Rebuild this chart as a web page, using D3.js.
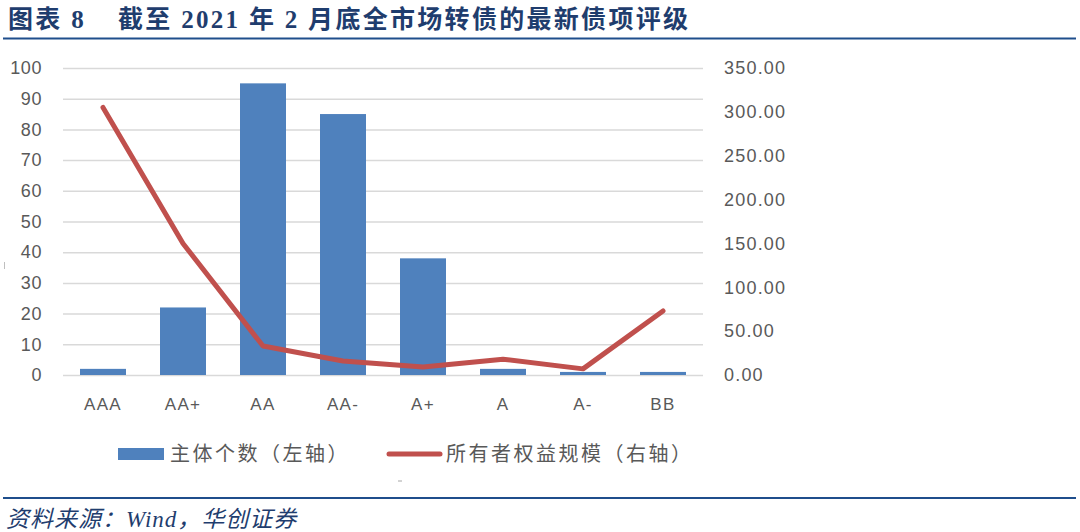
<!DOCTYPE html>
<html>
<head>
  <meta charset="utf-8">
  <script src="https://cdn.jsdelivr.net/npm/d3@7"></script>
  <style>
    body { margin: 0; background: #fff; }
  </style>
</head>
<body>
  <div id="chart"></div>
  <script>
    // ratings and values
    var categories = ["AAA", "AA+", "AA", "AA-", "A+", "A", "A-", "BB"];
    var issuerCount = [2, 22, 95, 85, 38, 2, 1, 1];
    var equityScale = [305, 150, 33, 16, 9, 18, 7, 73];
    var leftTicks = [0, 10, 20, 30, 40, 50, 60, 70, 80, 90, 100];
    var rightTicks = [0, 50, 100, 150, 200, 250, 300, 350];
    var seriesNames = ["主体个数（左轴）", "所有者权益规模（右轴）"];

    const W = 1080, H = 532;
    const margin = { top: 68, right: 377, bottom: 157, left: 63 },
      width = W - margin.left - margin.right,
      height = H - margin.top - margin.bottom;

    var svg = d3.select("#chart")
      .append("svg")
      .attr("width", W)
      .attr("height", H);

    // title and rules
    var title = svg.append("g")
      .attr("font-family", "'Liberation Serif', 'Noto Sans CJK SC', serif")
      .attr("font-weight", "bold")
      .attr("font-size", 25)
      .attr("letter-spacing", 2.3)
      .attr("fill", "#1f3d6e");
    title.append("text")
      .attr("x", 8).attr("y", 28)
      .text("图表 8");
    title.append("text")
      .attr("x", 118).attr("y", 28)
      .text("截至 2021 年 2 月底全市场转债的最新债项评级");

    svg.append("line")
      .attr("x1", 3).attr("x2", 1076)
      .attr("y1", 38.5).attr("y2", 38.5)
      .attr("stroke", "#1f4e8c").attr("stroke-width", 2);

    svg.append("line")
      .attr("x1", 3).attr("x2", 1076)
      .attr("y1", 498).attr("y2", 498)
      .attr("stroke", "#1f4e8c").attr("stroke-width", 2);

    svg.append("text")
      .attr("x", 6)
      .attr("y", 527)
      .attr("font-family", "'Liberation Serif', 'Noto Sans CJK SC', serif")
      .attr("font-style", "italic")
      .attr("font-size", 23)
      .attr("letter-spacing", 1)
      .attr("fill", "#1f3d6e")
      .text("资料来源：Wind，华创证券");

    // stray marks in the source picture
    svg.append("line")
      .attr("x1", 4.5).attr("x2", 4.5).attr("y1", 262).attr("y2", 269)
      .attr("stroke", "#bfbfbf").attr("stroke-width", 1);
    svg.append("line")
      .attr("x1", 398).attr("x2", 402).attr("y1", 481).attr("y2", 481)
      .attr("stroke", "#a6a6a6").attr("stroke-width", 1);

    var g = svg.append("g")
      .attr("transform", `translate(${margin.left},${margin.top})`);

    var x = d3.scaleBand()
      .domain(categories)
      .range([0, width])
      .paddingInner(0.425)
      .paddingOuter(0.2125);

    var yL = d3.scaleLinear().domain([0, 100]).range([height, 0]);
    var yR = d3.scaleLinear().domain([0, 350]).range([height, 0]);

    // gridlines
    g.append("g")
      .call(d3.axisLeft(yL).tickValues(leftTicks).tickSize(-width).tickFormat(""))
      .call(a => a.select(".domain").remove())
      .selectAll("line")
      .attr("stroke", "#d9d9d9")
      .attr("stroke-width", 1.5);

    // left axis labels
    g.append("g")
      .call(d3.axisLeft(yL).tickValues(leftTicks).tickSize(0).tickPadding(21))
      .call(a => a.select(".domain").remove())
      .selectAll("text")
      .attr("font-family", "'Liberation Sans', Arial, sans-serif")
      .attr("font-size", 18)
      .attr("letter-spacing", 0.6)
      .attr("fill", "#595959");

    // right axis labels
    g.append("g")
      .attr("transform", `translate(${width},0)`)
      .call(d3.axisRight(yR).tickValues(rightTicks).tickSize(0).tickPadding(21).tickFormat(d3.format(".2f")))
      .call(a => a.select(".domain").remove())
      .selectAll("text")
      .attr("font-family", "'Liberation Sans', Arial, sans-serif")
      .attr("font-size", 18)
      .attr("letter-spacing", 1.2)
      .attr("fill", "#595959");

    // x axis labels
    g.append("g")
      .attr("transform", `translate(0,${height})`)
      .call(d3.axisBottom(x).tickSize(0).tickPadding(23))
      .call(a => a.select(".domain").remove())
      .selectAll("text")
      .attr("font-family", "'Liberation Sans', Arial, sans-serif")
      .attr("font-size", 17)
      .attr("letter-spacing", 1.3)
      .attr("fill", "#595959");

    // bars
    g.selectAll(".bar")
      .data(categories)
      .enter()
      .append("rect")
      .attr("class", "bar")
      .attr("x", d => x(d))
      .attr("width", x.bandwidth())
      .attr("y", (d, i) => yL(issuerCount[i]))
      .attr("height", (d, i) => height - yL(issuerCount[i]))
      .attr("fill", "#4f81bd");

    // line on right axis
    var line = d3.line()
      .x((d, i) => x(categories[i]) + x.bandwidth() / 2)
      .y(d => yR(d));

    g.append("path")
      .datum(equityScale)
      .attr("d", line)
      .attr("fill", "none")
      .attr("stroke", "#c0504d")
      .attr("stroke-width", 5)
      .attr("stroke-linejoin", "round")
      .attr("stroke-linecap", "round");

    // legend
    var leg = svg.append("g")
      .attr("font-family", "'Noto Sans CJK SC', sans-serif")
      .attr("font-size", 20)
      .attr("letter-spacing", 2.5)
      .attr("fill", "#595959");

    leg.append("rect")
      .attr("x", 118).attr("y", 448)
      .attr("width", 46).attr("height", 12)
      .attr("fill", "#4f81bd");
    leg.append("text")
      .attr("x", 170).attr("y", 461)
      .text(seriesNames[0]);

    leg.append("line")
      .attr("x1", 389).attr("x2", 440)
      .attr("y1", 454).attr("y2", 454)
      .attr("stroke", "#c0504d")
      .attr("stroke-width", 5)
      .attr("stroke-linecap", "round");
    leg.append("text")
      .attr("x", 446).attr("y", 461)
      .text(seriesNames[1]);
  </script>
</body>
</html>
